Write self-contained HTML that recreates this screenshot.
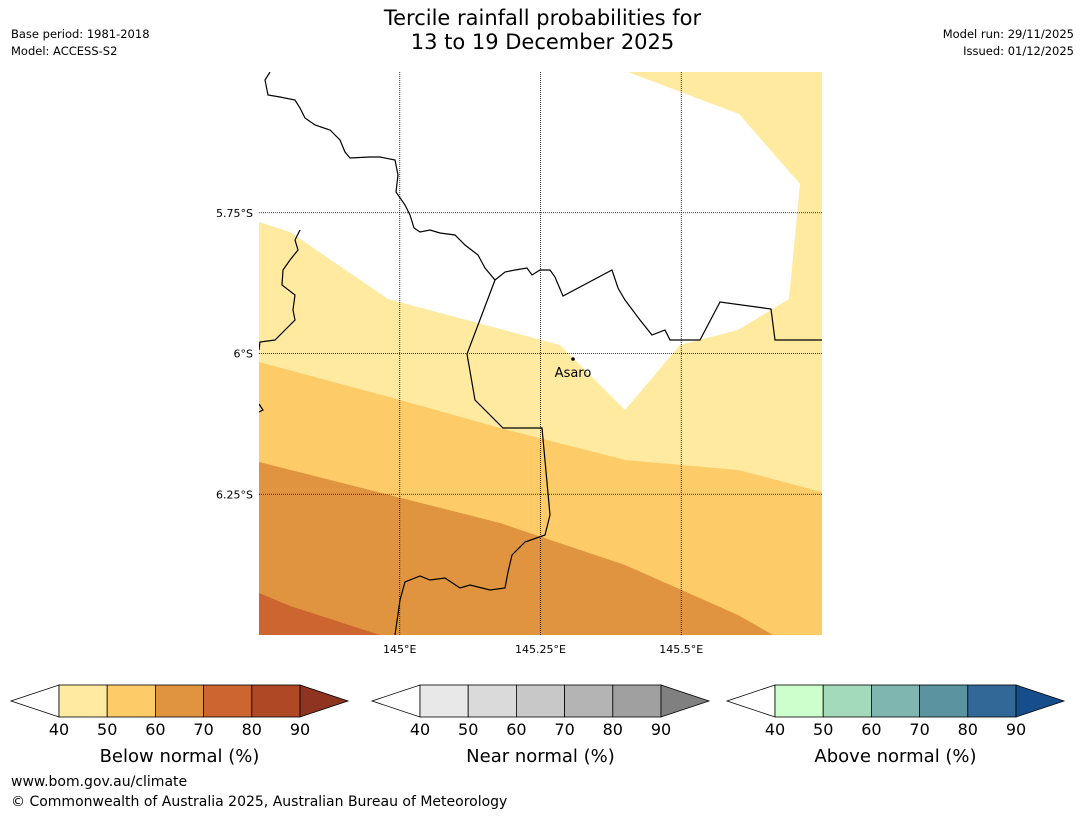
<!DOCTYPE html>
<html><head><meta charset="utf-8"><style>
body{margin:0;background:#fff;font-family:"DejaVu Sans","Liberation Sans",sans-serif;}
#root{position:relative;width:1085px;height:816px;overflow:hidden;background:#fff}
.t{position:absolute;white-space:nowrap;color:#000}
</style></head><body>
<div id="root">
<div class="t" style="left:0;width:1085px;top:6px;text-align:center;font-size:21px;line-height:24px">Tercile rainfall probabilities for<br>13 to 19 December 2025</div>
<div class="t" style="left:11px;top:26px;font-size:11.5px;line-height:17px">Base period: 1981-2018<br>Model: ACCESS-S2</div>
<div class="t" style="right:11px;top:26px;font-size:11.5px;line-height:17px;text-align:right">Model run: 29/11/2025<br>Issued: 01/12/2025</div>
<svg id="map" width="1085" height="680" style="position:absolute;left:0;top:0" font-family="DejaVu Sans, Liberation Sans, sans-serif"></svg>
<svg id="cbars" width="1085" height="140" style="position:absolute;left:0;top:670px" font-family="DejaVu Sans, Liberation Sans, sans-serif"></svg>
<div class="t" style="left:11px;top:774px;font-size:14px">www.bom.gov.au/climate</div>
<div class="t" style="left:11px;top:794px;font-size:14px">© Commonwealth of Australia 2025, Australian Bureau of Meteorology</div>
</div>
<script>
const lonTicks=[145,145.25,145.5];
const lonLabels=["145°E","145.25°E","145.5°E"];
const latTicks=[5.75,6,6.25];
const latLabels=["5.75°S","6°S","6.25°S"];
const cbTicks=["40","50","60","70","80","90"];
const cbTitles=["Below normal (%)","Near normal (%)","Above normal (%)"];
const belowColors=["#FFEAA0","#FDCB67","#E0943F","#CC6530","#AE4825","#8E3420"];
const nearColors=["#E8E8E8","#DADADA","#C8C8C8","#B4B4B4","#A0A0A0","#808080"];
const aboveColors=["#CCFFCC","#A3DABB","#80B6B0","#5B94A0","#326898","#154E8A"];
const NS="http://www.w3.org/2000/svg";
const L=259,R=822,T=72,B=635;
const x=lon=>L+(lon-144.75)*(R-L);
const y=lat=>T+(lat-5.5)*(B-T);
function mk(p,tag,a){const e=document.createElementNS(NS,tag);for(const k in a)e.setAttribute(k,a[k]);p.appendChild(e);return e;}
const m=document.getElementById('map');
const cp=mk(m,'clipPath',{id:'cp'});mk(cp,'rect',{x:L,y:T,width:R-L,height:B-T});
const g=mk(m,'g',{'clip-path':'url(#cp)'});
let e;
e=mk(g,'rect',{x:L,y:T,width:R-L,height:B-T,fill:'#FFEAA0'});

e=mk(g,'polygon',{points:'259,72 628,72 739,114 800,184 789,299 738,330 680,345 625,410 560,345 388,299 290,232 259,222',fill:'#fff'});

e=mk(g,'polygon',{points:'259,362 400,400 500,428 625,460 738,470 822,492 822,635 259,635',fill:'#FDCB67'});

e=mk(g,'polygon',{points:'259,462 500,523 625,565 738,615 773,635 259,635',fill:'#E0943F'});

e=mk(g,'polygon',{points:'259,593 290,606 380,635 259,635',fill:'#CC6530'});

e=mk(g,'polyline',{points:'270,72 265,80 268,95 280,97 295,100 300,108 305,118 315,125 330,130 340,140 345,152 350,158 370,157 380,157 395,160 398,175 396,192 405,205 410,215 414,228 420,232 430,230 440,233 455,235 465,245 478,255 485,268 495,280 505,272 515,270 527,268 532,275 540,270 550,270 555,277 563,296 612,270 618,288 625,300 640,320 652,335 665,330 670,340 700,340 720,302 771,309 775,340 822,340',fill:'none',stroke:'#000','stroke-width':1.2});

e=mk(g,'polyline',{points:'300,230 295,240 298,250 290,260 283,270 282,285 295,295 293,310 295,320 285,330 275,340 260,342 259,350',fill:'none',stroke:'#000','stroke-width':1.2});

e=mk(g,'polyline',{points:'495,280 467,354 475,400 503,428 542,428 550,515 545,535 525,542 512,555 508,572 505,588 490,590 470,585 460,588 445,578 430,580 420,576 405,582 400,600 395,635',fill:'none',stroke:'#000','stroke-width':1.2});

mk(g,'polyline',{points:'259,404 263,410 259,412',fill:'none',stroke:'#000','stroke-width':1.2});
lonTicks.forEach((v,i)=>{
 e=mk(m,'line',{x1:x(v),x2:x(v),y1:T,y2:B,stroke:'#000','stroke-width':0.8,'stroke-dasharray':'1,1'});
 
 e=mk(m,'text',{x:x(v),y:B+18,'font-size':11,'text-anchor':'middle'});e.textContent=lonLabels[i];
 
});
latTicks.forEach((v,i)=>{
 e=mk(m,'line',{x1:L,x2:R,y1:y(v),y2:y(v),stroke:'#000','stroke-width':0.8,'stroke-dasharray':'1,1'});
 
 e=mk(m,'text',{x:L-6,y:y(v)+4,'font-size':11,'text-anchor':'end'});e.textContent=latLabels[i];
 
});
e=mk(m,'circle',{cx:573,cy:359,r:1.8,fill:'#000'});

e=mk(m,'text',{x:573,y:377,'font-size':13,'text-anchor':'middle'});e.textContent='Asaro';

const cb=document.getElementById('cbars');
const bars=[[11,belowColors],[372,nearColors],[727,aboveColors]];
bars.forEach(([x0,cols],k)=>{
 const bx=x0+48,w=48.2,top=15,h=32;
 e=mk(cb,'polygon',{points:`${x0},${top+h/2} ${bx},${top} ${bx},${top+h}`,fill:'#fff',stroke:'#000','stroke-width':0.8});
 
 for(let i=0;i<5;i++){
  e=mk(cb,'rect',{x:bx+i*w,y:top,width:w,height:h,fill:cols[i],stroke:'#000','stroke-width':0.8});
  
 }
 const ex=bx+5*w;
 e=mk(cb,'polygon',{points:`${ex},${top} ${ex+48},${top+h/2} ${ex},${top+h}`,fill:cols[5],stroke:'#000','stroke-width':0.8});
 
 cbTicks.forEach((t,i)=>{
  e=mk(cb,'text',{x:bx+i*w,y:65,'font-size':16,'text-anchor':'middle'});e.textContent=t;
  
 });
 e=mk(cb,'text',{x:bx+2.5*w,y:92,'font-size':18,'text-anchor':'middle'});e.textContent=cbTitles[k];
 
});
</script>
</body></html>
